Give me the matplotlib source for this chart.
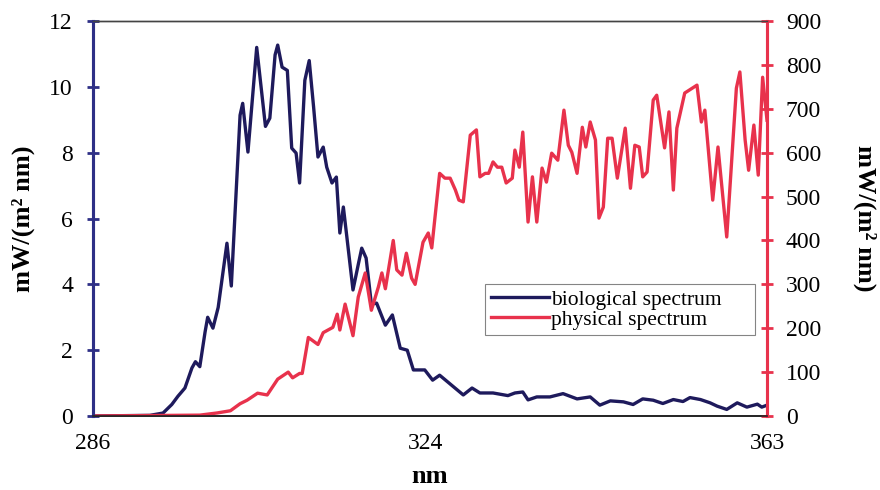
import matplotlib
matplotlib.use("Agg")
import matplotlib.pyplot as plt

plt.rcParams['font.family'] = ['Liberation Serif', 'DejaVu Serif']

# biological (erythemal-weighted) spectrum, left axis
bio_nm = [286.0, 292.5, 294.0, 295.0, 295.7, 296.5, 297.3, 297.7, 298.2, 298.8,
          299.1, 299.7, 300.3, 301.3, 301.8, 302.8, 303.1, 303.7, 304.7, 305.7,
          306.2, 306.8, 307.1, 307.6, 308.2, 308.7, 309.2, 309.6, 310.2, 310.7,
          311.2, 311.7, 312.3, 312.7, 313.3, 313.8, 314.2, 314.6, 315.0, 315.7,
          316.3, 316.7, 317.2, 317.8, 318.4, 319.4, 320.2, 321.1, 321.9, 322.6,
          323.9, 324.8, 325.6, 328.3, 329.3, 330.2, 331.7, 333.4, 334.2, 335.1,
          335.7, 336.7, 338.2, 339.7, 341.3, 342.8, 343.9, 345.1, 346.6, 347.7,
          348.8, 350.0, 351.1, 352.3, 353.4, 354.2, 355.4, 356.5, 357.3, 358.4,
          359.6, 360.7, 361.9, 362.4, 363.0]
bio_val = [0.0, 0.02, 0.09, 0.35, 0.6, 0.85, 1.46, 1.65, 1.5, 2.55,
           3.0, 2.67, 3.3, 5.25, 3.95, 9.14, 9.5, 8.02, 11.2, 8.8,
           9.05, 10.97, 11.27, 10.6, 10.5, 8.14, 7.99, 7.08, 10.2, 10.8,
           9.39, 7.87, 8.17, 7.56, 7.08, 7.26, 5.56, 6.35, 5.44, 3.83,
           4.6, 5.1, 4.8, 3.4, 3.43, 2.76, 3.07, 2.06, 2.0, 1.4,
           1.4, 1.09, 1.24, 0.64, 0.85, 0.7, 0.7, 0.62, 0.7, 0.73,
           0.49, 0.58, 0.58, 0.68, 0.52, 0.58, 0.33, 0.46, 0.43, 0.35,
           0.52, 0.48, 0.38, 0.5, 0.44, 0.56, 0.5, 0.4, 0.3, 0.2,
           0.4, 0.27, 0.36, 0.27, 0.33]

# physical (solar irradiance) spectrum, right axis
phys_nm = [286.0, 298.2, 300.2, 301.7, 302.8, 303.6, 304.5, 304.8, 305.9, 307.1,
           308.3, 308.8, 309.6, 309.9, 310.6, 311.7, 312.3, 313.4, 313.9, 314.2,
           314.8, 315.7, 316.3, 317.1, 317.8, 318.6, 319.0, 319.4, 320.3, 320.7,
           321.3, 321.8, 322.4, 322.8, 323.7, 324.3, 324.7, 325.6, 326.2, 326.8,
           327.4, 327.8, 328.3, 329.1, 329.8, 330.2, 330.8, 331.2, 331.7, 332.2,
           332.7, 333.2, 333.9, 334.2, 334.7, 335.1, 335.7, 336.2, 336.7, 337.3,
           337.8, 338.4, 339.1, 339.8, 340.3, 340.7, 341.3, 341.9, 342.3, 342.8,
           343.4, 343.8, 344.3, 344.8, 345.3, 345.9, 346.8, 347.4, 347.9, 348.4,
           348.8, 349.3, 350.0, 350.4, 351.3, 351.8, 352.3, 352.7, 353.6, 355.0,
           355.5, 355.9, 356.8, 357.4, 358.4, 359.5, 359.9, 360.5, 360.9, 361.5,
           362.0, 362.5, 363.0]
phys_val = [0, 2, 7, 12, 28, 36, 48, 52, 48, 84,
            100, 87, 97, 97, 179, 163, 190, 202, 232, 196,
            255, 183, 271, 326, 241, 294, 326, 290, 400, 333,
            321, 371, 314, 300, 396, 417, 383, 553, 542, 542,
            515, 492, 488, 640, 652, 545, 553, 553, 579, 567,
            567, 531, 542, 606, 567, 647, 442, 545, 442, 565,
            533, 599, 583, 697, 617, 601, 553, 658, 613, 670,
            629, 451, 476, 633, 633, 542, 656, 519, 617, 613,
            545, 556, 720, 731, 611, 693, 515, 656, 736, 754,
            670, 697, 492, 613, 408, 747, 784, 629, 560, 663,
            549, 772, 674]

x_ticks = [286, 324, 363]

navy = '#1e1a5c'
red = '#e8324c'
axis_navy = '#2e2f86'

fig = plt.figure(figsize=(8.8, 4.9), dpi=100)
ax = fig.add_axes([0.1057, 0.151, 0.7659, 0.806])
ax2 = ax.twinx()

l1, = ax.plot(bio_nm, bio_val, color=navy, lw=2.4, label='biological spectrum', zorder=3)
l2, = ax2.plot(phys_nm, phys_val, color=red, lw=2.4, label='physical spectrum', zorder=2)

ax.set_xlim(286, 363)
ax.set_ylim(0, 12)
ax2.set_ylim(0, 900)
ax.set_xticks(x_ticks)
ax.set_yticks(range(0, 13, 2))
ax2.set_yticks(range(0, 901, 100))

ax.tick_params(axis='x', length=0, pad=12, labelsize=17)
ax.tick_params(axis='y', direction='inout', length=9, width=2, color=axis_navy,
               labelsize=17, pad=10)
ax2.tick_params(axis='y', direction='inout', length=9, width=2, color=red,
                labelsize=17, pad=9)

for a in (ax, ax2):
    a.spines['top'].set_color('#444444')
    a.spines['top'].set_linewidth(1.0)
    a.spines['bottom'].set_color('#222222')
    a.spines['bottom'].set_linewidth(1.2)
    a.spines['left'].set_color(axis_navy)
    a.spines['left'].set_linewidth(2.2)
    a.spines['right'].set_color(red)
    a.spines['right'].set_linewidth(2.2)

ax.set_xlabel('nm', fontsize=19, fontweight='bold', labelpad=8)
ax.set_ylabel('mW/(m² nm)', fontsize=19, fontweight='bold', labelpad=10)
ax2.set_ylabel('mW/(m² nm)', fontsize=19, fontweight='bold', rotation=-90, labelpad=40)

# legend box stretched to the full frame width
leg = ax2.legend(handles=[l1, l2], loc='lower left',
                 bbox_to_anchor=(0.582, 0.205, 0.40, 0.12), mode='expand',
                 fontsize=15.5, frameon=True, fancybox=False, handlelength=2.7,
                 handletextpad=0.1, borderpad=0.25, labelspacing=0.0,
                 borderaxespad=0)
leg.get_frame().set_edgecolor('#666666')
leg.get_frame().set_linewidth(0.8)

fig.savefig('out.png', dpi=100)
